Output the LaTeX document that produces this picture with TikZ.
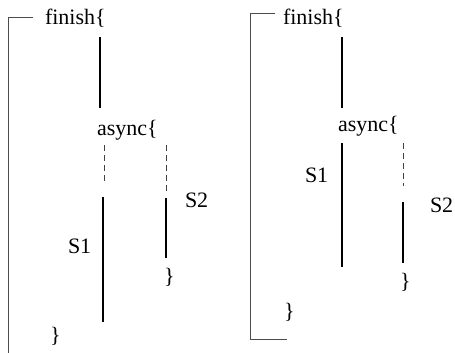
\documentclass[tikz,border=0pt]{standalone}
\usepackage{fontspec}
\setmainfont{Liberation Serif}
\begin{document}
\begin{tikzpicture}[x=1pt,y=-1pt,
  lbl/.style={anchor=base west,inner sep=0pt,outer sep=0pt,font=\fontsize{22}{26}\selectfont},
  thickseg/.style={line width=2.6pt,black},
  dashseg/.style={line width=0.9pt,black!75,dash pattern=on 6pt off 4pt},
  bracket/.style={line width=1pt,black!70}]
\useasboundingbox (0,0) rectangle (455,353);
% ---------- left diagram ----------
\node[lbl] (finA) at (45,25) {finish\{};
\node[lbl] (asyA) at (97,135) {async\{};
\node[lbl] (s1A) at (68,253) {S1};
\node[lbl] (s2A) at (185,207) {S2};
\node[lbl] (cbA2) at (164,283) {\}};
\node[lbl] (cbA1) at (50,342) {\}};
\coordinate (bA1) at (33,18);
\coordinate (bA2) at (8,18);
\coordinate (bA3) at (8,353);
\draw[bracket] (bA1) -- (bA2) -- (bA3);
\coordinate (tA1) at (100,37);
\coordinate (tA2) at (100,108);
\draw[thickseg] (tA1) -- (tA2);
\coordinate (dA1) at (104,145);
\coordinate (dA2) at (104,181);
\draw[dashseg] (dA1) -- (dA2);
\coordinate (dA3) at (166,145);
\coordinate (dA4) at (166,191);
\draw[dashseg] (dA3) -- (dA4);
\coordinate (sA1) at (103,197);
\coordinate (sA2) at (103,322);
\draw[thickseg] (sA1) -- (sA2);
\coordinate (sA3) at (166,198);
\coordinate (sA4) at (166,258);
\draw[thickseg] (sA3) -- (sA4);
% ---------- right diagram ----------
\node[lbl] (finB) at (283,25) {finish\{};
\node[lbl] (asyB) at (338,131) {async\{};
\node[lbl] (s1B) at (305,182) {S1};
\node[lbl] (s2B) at (430,212) {S2};
\node[lbl] (cbB2) at (400,288) {\}};
\node[lbl] (cbB1) at (284,318) {\}};
\coordinate (bB1) at (275,14);
\coordinate (bB2) at (250,14);
\coordinate (bB3) at (250,339);
\coordinate (bB4) at (287,339);
\draw[bracket] (bB1) -- (bB2) -- (bB3) -- (bB4);
\coordinate (tB1) at (342,37);
\coordinate (tB2) at (342,108);
\draw[thickseg] (tB1) -- (tB2);
\coordinate (sB1) at (342,143);
\coordinate (sB2) at (342,267);
\draw[thickseg] (sB1) -- (sB2);
\coordinate (dB1) at (403,143);
\coordinate (dB2) at (403,186);
\draw[dashseg] (dB1) -- (dB2);
\coordinate (sB3) at (403,202);
\coordinate (sB4) at (403,263);
\draw[thickseg] (sB3) -- (sB4);
\end{tikzpicture}
\end{document}
